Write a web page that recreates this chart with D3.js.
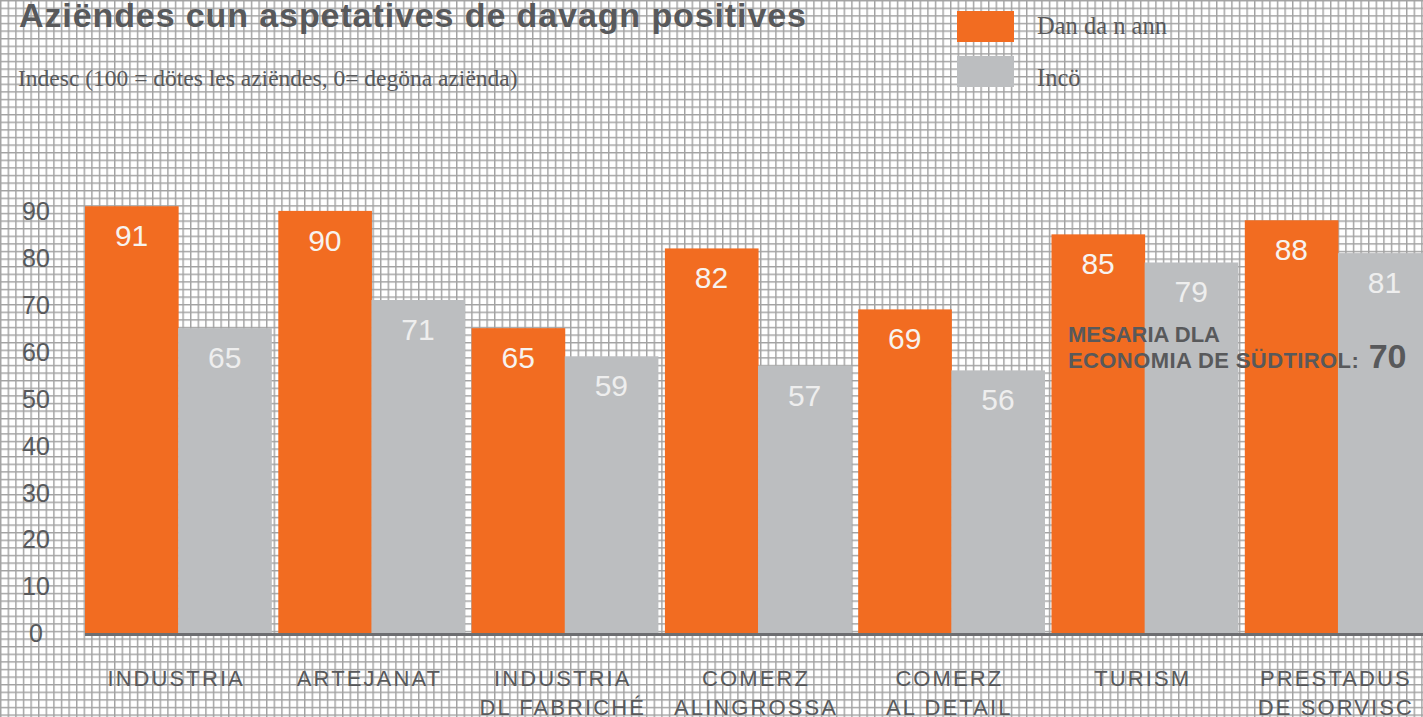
<!DOCTYPE html>
<html>
<head>
<meta charset="utf-8">
<script src="https://cdn.jsdelivr.net/npm/d3@7"></script>
<style>
  html, body { margin: 0; padding: 0; background: #fff; overflow: hidden; }
  text { font-family: "Liberation Sans", Arial, sans-serif; }
  .serif { font-family: "Liberation Serif", "Times New Roman", serif; }
</style>
</head>
<body>
<svg width="1423" height="717"></svg>
<script>
// data
var categories = [
  ['INDUSTRIA'],
  ['ARTEJANAT'],
  ['INDUSTRIA', 'DL FABRICHÉ'],
  ['COMERZ', 'ALINGROSSA'],
  ['COMERZ', 'AL DETAIL'],
  ['TURISM'],
  ['PRESTADUS', 'DE SORVISC']
];
var nextYear = [91, 90, 65, 82, 69, 85, 88];
var today = [65, 71, 59, 57, 56, 79, 81];
var seriesNames = ['Dan da n ann', 'Incö'];
var yTicks = [0, 10, 20, 30, 40, 50, 60, 70, 80, 90];
var average = 70;

var svg = d3.select('svg');
var width = +svg.attr('width');
var height = +svg.attr('height');

var orange = '#f26c21';
var grey = '#bcbec0';
var textGrey = '#58595b';

// graph paper background
var defs = svg.append('defs');
var pitch = 7.6;
var pat = defs.append('pattern')
    .attr('id', 'grid')
    .attr('patternUnits', 'userSpaceOnUse')
    .attr('width', pitch)
    .attr('height', pitch);
pat.append('rect').attr('width', pitch).attr('height', pitch).attr('fill', '#fff');
pat.append('path')
    .attr('d', 'M0,0.7H' + pitch + 'M0.7,0V' + pitch)
    .attr('stroke', '#a2a2a2')
    .attr('stroke-width', 1.5)
    .attr('fill', 'none');
svg.append('rect')
    .attr('width', width)
    .attr('height', height)
    .attr('fill', 'url(#grid)');

var keys = categories.map(function(d) { return d.join(' '); });

var x0 = d3.scaleBand()
    .domain(keys)
    .range([85, 85 + 7 * 193.3 - 7])
    .paddingInner(7 / 193.3);

var x1 = d3.scaleBand()
    .domain(['next', 'today'])
    .range([0, x0.bandwidth()]);

var y = d3.scaleLinear()
    .domain([0, 100])
    .range([633, 164]);

var rows = keys.map(function(k, i) {
    return { key: k, lines: categories[i], next: nextYear[i], today: today[i] };
});

// bars
var groups = svg.append('g').selectAll('g')
    .data(rows)
    .enter()
    .append('g')
    .attr('transform', function(d) { return 'translate(' + x0(d.key) + ',0)'; });

groups.selectAll('rect')
    .data(function(d) { return [{ s: 'next', v: d.next }, { s: 'today', v: d.today }]; })
    .enter()
    .append('rect')
    .attr('x', function(d) { return x1(d.s); })
    .attr('y', function(d) { return y(d.v); })
    .attr('width', x1.bandwidth() + 0.5)
    .attr('height', function(d) { return y(0) - y(d.v); })
    .attr('fill', function(d) { return d.s === 'next' ? orange : grey; });

groups.selectAll('.val')
    .data(function(d) { return [{ s: 'next', v: d.next }, { s: 'today', v: d.today }]; })
    .enter()
    .append('text')
    .attr('class', 'val')
    .attr('x', function(d) { return x1(d.s) + x1.bandwidth() / 2; })
    .attr('y', function(d) { return y(d.v) + 40; })
    .attr('text-anchor', 'middle')
    .attr('font-size', 30)
    .attr('fill', function(d) { return d.s === 'next' ? '#f7f3ef' : '#eeeeee'; })
    .text(function(d) { return d.v; });

// baseline
svg.append('line')
    .attr('x1', 85)
    .attr('x2', width)
    .attr('y1', y(0) + 1.5)
    .attr('y2', y(0) + 1.5)
    .attr('stroke', '#6d6e71')
    .attr('stroke-width', 3);

// y axis labels
var yAxis = d3.axisLeft(y)
    .tickValues(yTicks)
    .tickSize(0)
    .tickPadding(0);
var yG = svg.append('g')
    .attr('transform', 'translate(36,0)')
    .call(yAxis);
yG.select('.domain').remove();
yG.selectAll('text')
    .attr('text-anchor', 'middle')
    .attr('dy', '0.35em')
    .attr('font-family', '"Liberation Sans", Arial, sans-serif')
    .attr('font-size', 25)
    .attr('fill', textGrey);

// category labels
var catG = svg.append('g').selectAll('text')
    .data(rows)
    .enter()
    .append('text')
    .attr('text-anchor', 'middle')
    .attr('font-size', 22)
    .attr('letter-spacing', 2.1)
    .attr('fill', textGrey)
    .attr('transform', function(d) { return 'translate(' + (x0(d.key) + x0.bandwidth() / 2 - 2) + ',686)'; });
catG.selectAll('tspan')
    .data(function(d) { return d.lines; })
    .enter()
    .append('tspan')
    .attr('x', 0)
    .attr('y', function(d, i) { return i * 29; })
    .text(function(d) { return d; });

// title + subtitle
svg.append('text')
    .attr('x', 19)
    .attr('y', 27)
    .attr('font-size', 34)
    .attr('font-weight', 'bold')
    .attr('letter-spacing', 0.9)
    .attr('fill', textGrey)
    .text('Aziëndes cun aspetatives de davagn positives');

svg.append('text')
    .attr('class', 'serif')
    .attr('x', 18)
    .attr('y', 86)
    .attr('font-size', 23.5)
    .attr('fill', textGrey)
    .text('Indesc (100 = dötes les aziëndes, 0= degöna aziënda)');

// legend
var legend = svg.append('g').selectAll('g')
    .data(seriesNames)
    .enter()
    .append('g')
    .attr('transform', function(d, i) { return 'translate(957,' + (i === 0 ? 11 : 56) + ')'; });
legend.append('rect')
    .attr('width', 57)
    .attr('height', 31)
    .attr('fill', function(d, i) { return i === 0 ? orange : grey; });
legend.append('text')
    .attr('class', 'serif')
    .attr('x', 80)
    .attr('y', function(d, i) { return i === 0 ? 23 : 30; })
    .attr('font-size', 24.5)
    .attr('fill', textGrey)
    .text(function(d) { return d; });

// average note
var note = svg.append('text')
    .attr('x', 1068)
    .attr('y', 342)
    .attr('font-size', 22)
    .attr('font-weight', 'bold')
    .attr('fill', textGrey);
note.append('tspan').attr('x', 1068).text('MESARIA DLA');
var l2 = note.append('tspan').attr('x', 1068).attr('y', 368);
l2.append('tspan').attr('letter-spacing', 0.4).text('ECONOMIA DE SÜDTIROL: ');
l2.append('tspan').attr('dx', 3).attr('font-size', 34).text(average);
</script>
</body>
</html>
